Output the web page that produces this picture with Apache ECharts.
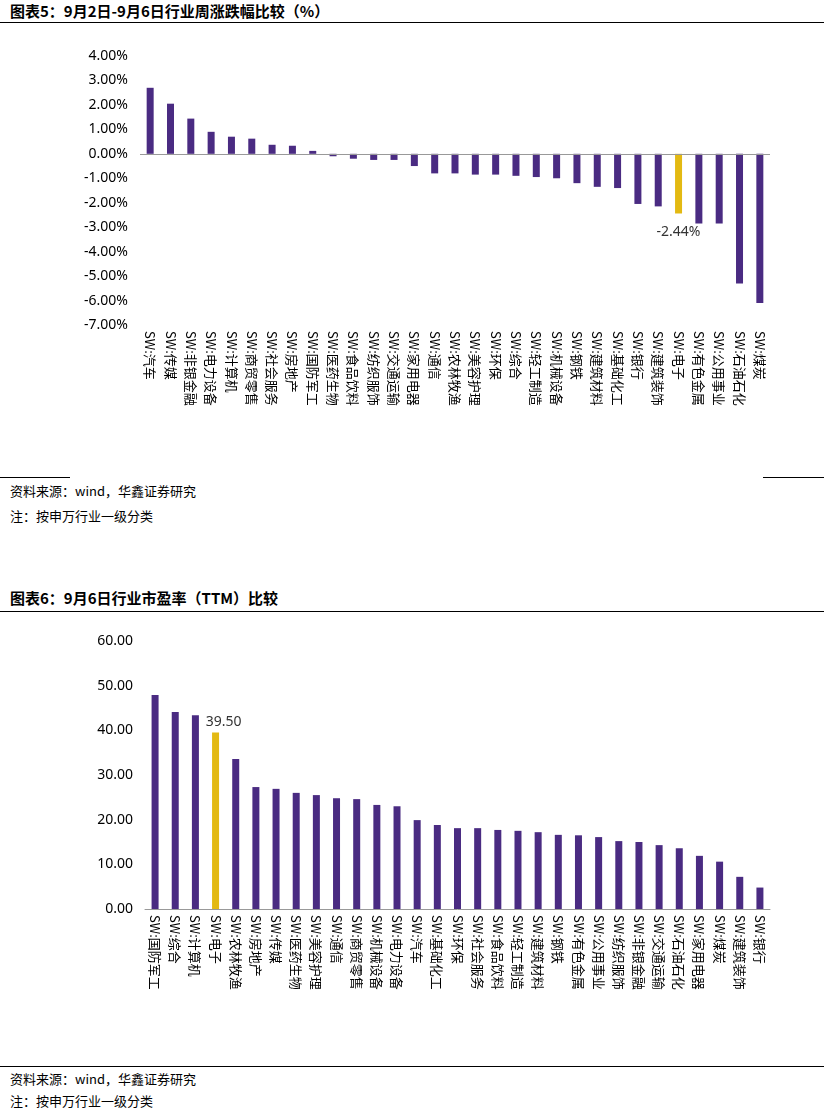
<!DOCTYPE html>
<html><head><meta charset="utf-8">
<script src="https://cdn.jsdelivr.net/npm/echarts@6/dist/echarts.min.js"></script>
<style>
body{margin:0;width:824px;height:1109px;position:relative;background:#fff;font-family:"Noto Sans CJK SC",sans-serif;color:#000}
.t{position:absolute;left:10px;font-size:15px;font-weight:bold}
.n{position:absolute;left:10px;font-size:13px}
.ln{position:absolute;height:1px;background:#000}
#c1{position:absolute;left:0;top:30px;width:824px;height:440px}
#c2{position:absolute;left:0;top:620px;width:824px;height:440px}
</style></head><body>
<div class="t" style="top:0">图表5：9月2日-9月6日行业周涨跌幅比较（%）</div>
<div class="ln" style="top:22px;left:0;width:824px"></div>
<div id="c1"></div>
<div class="ln" style="top:477px;left:0;width:70px"></div>
<div class="ln" style="top:477px;left:763px;width:61px"></div>
<div class="n" style="top:481px">资料来源：wind，华鑫证券研究</div>
<div class="n" style="top:506px">注：按申万行业一级分类</div>
<div class="t" style="top:587px">图表6：9月6日行业市盈率（TTM）比较</div>
<div class="ln" style="top:611px;left:0;width:824px"></div>
<div id="c2"></div>
<div class="ln" style="top:1066px;left:0;width:824px"></div>
<div class="n" style="top:1069px">资料来源：wind，华鑫证券研究</div>
<div class="n" style="top:1091px">注：按申万行业一级分类</div>
<script>
const cats1 = ["汽车","传媒","非银金融","电力设备","计算机","商贸零售","社会服务","房地产","国防军工","医药生物","食品饮料","纺织服饰","交通运输","家用电器","通信","农林牧渔","美容护理","环保","综合","轻工制造","机械设备","钢铁","建筑材料","基础化工","银行","建筑装饰","电子","有色金属","公用事业","石油石化","煤炭"];
const vals1 = [2.70,2.05,1.44,0.90,0.70,0.62,0.37,0.33,0.12,-0.10,-0.20,-0.25,-0.25,-0.50,-0.80,-0.80,-0.85,-0.85,-0.90,-0.95,-1.00,-1.20,-1.35,-1.40,-2.05,-2.15,-2.44,-2.85,-2.85,-5.30,-6.10];
const cats2 = ["国防军工","综合","计算机","电子","农林牧渔","房地产","传媒","医药生物","美容护理","通信","商贸零售","机械设备","电力设备","汽车","基础化工","环保","社会服务","食品饮料","轻工制造","建筑材料","钢铁","有色金属","公用事业","纺织服饰","非银金融","交通运输","石油石化","家用电器","煤炭","建筑装饰","银行"];
const vals2 = [47.9,44.1,43.4,39.5,33.6,27.3,26.9,26.0,25.5,24.8,24.6,23.3,23.0,19.9,18.8,18.1,18.1,17.7,17.5,17.2,16.6,16.5,16.1,15.2,15.0,14.3,13.6,11.9,10.6,7.2,4.8];
const highlight = "电子";
const purple = "#4a2b82", gold = "#e3b912";
const labelFont = {fontFamily:"Noto Sans CJK SC",fontSize:13,color:"#000"};

function mk(id, cats, vals, opt){
  const chart = echarts.init(document.getElementById(id));
  chart.setOption({
    animation:false,
    grid:opt.grid,
    xAxis:{type:"category",data:cats.map(c=>"SW:"+c),
      axisTick:{show:false},
      axisLine:{show:opt.xLine,onZero:false,lineStyle:{color:"#999"}},
      axisLabel:Object.assign({rotate:-90,interval:0,margin:6},labelFont)},
    yAxis:{type:"value",min:opt.min,max:opt.max,interval:opt.interval,
      splitLine:{show:false},axisLine:{show:false},axisTick:{show:false},
      axisLabel:{formatter:opt.fmt,fontFamily:"Noto Sans",fontSize:14,color:"#000",margin:12}},
    series:[{type:"bar",barWidth:7,
      data:vals.map((v,i)=>({value:v,itemStyle:{color:cats[i]===highlight?gold:purple},
        label:{show:cats[i]===highlight,position:opt.labPos,formatter:opt.labFmt,offset:opt.labOff,
          fontFamily:"Noto Sans",fontSize:14,color:"#333",distance:opt.labDist}})),
      markLine:opt.zeroLine?{silent:true,symbol:"none",label:{show:false},
        lineStyle:{color:"#999",type:"solid",width:1},data:[{yAxis:0}]}:undefined}]
  });
}
mk("c1",cats1,vals1,{grid:{left:140,right:54,top:26,bottom:145},min:-7,max:4,interval:1,
  fmt:v=>v.toFixed(2)+"%",xLine:false,zeroLine:true,labPos:"bottom",labDist:12,labOff:[0,0],
  labFmt:p=>p.value.toFixed(2)+"%"});
mk("c2",cats2,vals2,{grid:{left:145,right:54,top:21,bottom:151},min:0,max:60,interval:10,
  fmt:v=>v.toFixed(2),xLine:true,zeroLine:false,labPos:"top",labDist:4,labOff:[8,0],
  labFmt:p=>p.value.toFixed(2)});
</script>
</body></html>
